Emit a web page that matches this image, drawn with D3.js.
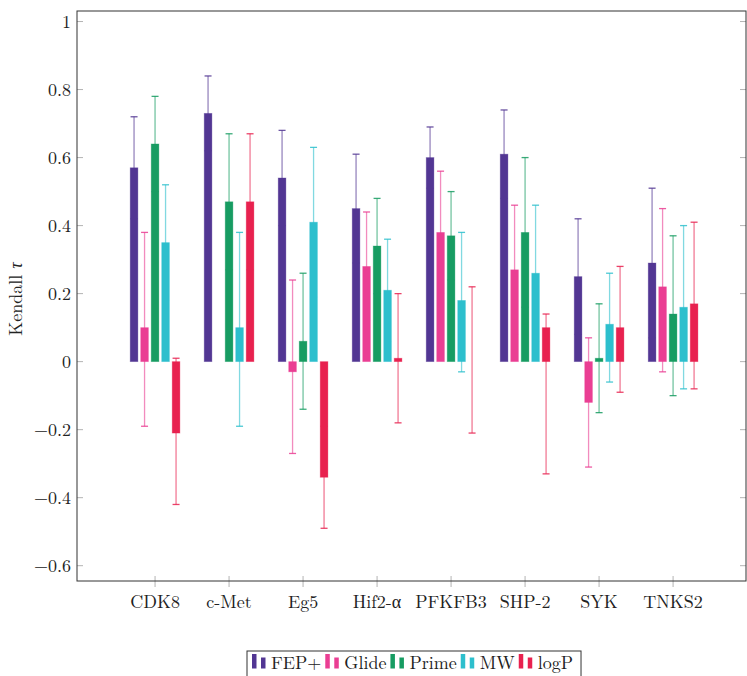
<!DOCTYPE html>
<html>
<head>
<meta charset="utf-8">
<script src="https://cdn.jsdelivr.net/npm/d3@7/dist/d3.min.js"></script>
<style>
  html, body { margin: 0; padding: 0; background: #fff; }
</style>
</head>
<body>
<svg id="chart"></svg>
<script>
// categories and series
const categories = ['CDK8', 'c-Met', 'Eg5', 'Hif2-α', 'PFKFB3', 'SHP-2', 'SYK', 'TNKS2'];
const seriesNames = ['FEP+', 'Glide', 'Prime', 'MW', 'logP'];
const seriesColors = ['#523693', '#ea3e93', '#179c62', '#2dbfcd', '#e8214f'];

// Kendall tau with lower / upper confidence bounds (Glide has no c-Met value)
const fep     = [0.57, 0.73, 0.54, 0.45, 0.60, 0.61, 0.25, 0.29];
const fepLo   = [0.42, 0.62, 0.40, 0.29, 0.51, 0.48, 0.08, 0.07];
const fepHi   = [0.72, 0.84, 0.68, 0.61, 0.69, 0.74, 0.42, 0.51];

const glide   = [0.10, null, -0.03, 0.28, 0.38, 0.27, -0.12, 0.22];
const glideLo = [-0.19, null, -0.27, 0.12, 0.20, 0.08, -0.31, -0.03];
const glideHi = [0.38, null, 0.24, 0.44, 0.56, 0.46, 0.07, 0.45];

const prime   = [0.64, 0.47, 0.06, 0.34, 0.37, 0.38, 0.01, 0.14];
const primeLo = [0.50, 0.27, -0.14, 0.20, 0.24, 0.16, -0.15, -0.10];
const primeHi = [0.78, 0.67, 0.26, 0.48, 0.50, 0.60, 0.17, 0.37];

const mw      = [0.35, 0.10, 0.41, 0.21, 0.18, 0.26, 0.11, 0.16];
const mwLo    = [0.18, -0.19, 0.19, 0.06, -0.03, 0.06, -0.06, -0.08];
const mwHi    = [0.52, 0.38, 0.63, 0.36, 0.38, 0.46, 0.26, 0.40];

const logp    = [-0.21, 0.47, -0.34, 0.01, 0.00, 0.10, 0.10, 0.17];
const logpLo  = [-0.42, 0.27, -0.49, -0.18, -0.21, -0.33, -0.09, -0.08];
const logpHi  = [0.01, 0.67, -0.19, 0.20, 0.22, 0.14, 0.28, 0.41];

const yTicks = [-0.6, -0.4, -0.2, 0, 0.2, 0.4, 0.6, 0.8, 1];

const seriesData = [
  [fep, fepLo, fepHi],
  [glide, glideLo, glideHi],
  [prime, primeLo, primeHi],
  [mw, mwLo, mwHi],
  [logp, logpLo, logpHi]
];

const width = 747, height = 676;
const plot = { left: 77, right: 746, top: 11, bottom: 581 };
const serif = "'Latin Modern Roman', 'CMU Serif', 'Liberation Serif', 'DejaVu Serif', 'Noto Serif', Tinos, 'Nimbus Roman', 'FreeSerif', 'Times New Roman', Times, serif";

const svg = d3.select('#chart')
  .attr('width', width)
  .attr('height', height)
  .attr('viewBox', `0 0 ${width} ${height}`)
  .style('font-family', serif);

const x = d3.scalePoint()
  .domain(categories)
  .range([plot.left, plot.right])
  .padding(1.02)
  .align(0.517);

const xs = d3.scaleBand()
  .domain(seriesNames)
  .range([-24.85, 24.85])
  .paddingInner(0.267);

const y = d3.scaleLinear()
  .domain([-0.645, 1.031])
  .range([plot.bottom, plot.top]);

const fmt = d => d === 0 ? '0' : d === 1 ? '1' : d3.format('.1f')(d).replace('-', '−');

// y ticks, left and right, drawn inside the frame
const grey = '#b3b3b3';
svg.append('g').selectAll('line')
  .data(yTicks)
  .join('line')
    .attr('x1', plot.left).attr('x2', plot.left + 6)
    .attr('y1', d => y(d)).attr('y2', d => y(d))
    .attr('stroke', grey).attr('stroke-width', 1);
svg.append('g').selectAll('line')
  .data(yTicks)
  .join('line')
    .attr('x1', plot.right - 6).attr('x2', plot.right)
    .attr('y1', d => y(d)).attr('y2', d => y(d))
    .attr('stroke', grey).attr('stroke-width', 1);

svg.append('g').selectAll('text')
  .data(yTicks)
  .join('text')
    .attr('x', plot.left - 6)
    .attr('y', d => y(d))
    .attr('dy', '0.35em')
    .attr('text-anchor', 'end')
    .style('font-family', serif)
    .style('font-size', '18px')
    .attr('fill', '#222')
    .text(fmt);

// x ticks
svg.append('g').selectAll('line')
  .data(categories)
  .join('line')
    .attr('x1', d => x(d)).attr('x2', d => x(d))
    .attr('y1', plot.bottom - 5).attr('y2', plot.bottom + 6)
    .attr('stroke', grey).attr('stroke-width', 1);

svg.append('g').selectAll('text')
  .data(categories)
  .join('text')
    .attr('x', d => x(d))
    .attr('y', 608)
    .attr('text-anchor', 'middle')
    .style('font-family', serif)
    .style('font-size', '18px')
    .attr('fill', '#222')
    .text(d => d);

// error bars, then bars on top
seriesData.forEach(([vals, lo, hi], si) => {
  const name = seriesNames[si];
  const color = seriesColors[si];
  const rows = categories.map((c, i) => ({ c, v: vals[i], lo: lo[i], hi: hi[i] }))
    .filter(d => d.v !== null);
  const cx = d => x(d.c) + xs(name) + xs.bandwidth() / 2;

  const eg = svg.append('g');
  eg.selectAll('line.stem')
    .data(rows)
    .join('line')
      .attr('class', 'stem')
      .attr('x1', cx).attr('x2', cx)
      .attr('y1', d => y(d.lo)).attr('y2', d => y(d.hi))
      .attr('stroke', color).attr('stroke-opacity', 0.6).attr('stroke-width', 1.3);
  eg.selectAll('line.caplo')
    .data(rows)
    .join('line')
      .attr('class', 'caplo')
      .attr('x1', d => cx(d) - 3.5).attr('x2', d => cx(d) + 3.5)
      .attr('y1', d => y(d.lo)).attr('y2', d => y(d.lo))
      .attr('stroke', color).attr('stroke-opacity', 0.85).attr('stroke-width', 1.3);
  eg.selectAll('line.caphi')
    .data(rows)
    .join('line')
      .attr('class', 'caphi')
      .attr('x1', d => cx(d) - 3.5).attr('x2', d => cx(d) + 3.5)
      .attr('y1', d => y(d.hi)).attr('y2', d => y(d.hi))
      .attr('stroke', color).attr('stroke-opacity', 0.85).attr('stroke-width', 1.3);

  svg.append('g').selectAll('rect')
    .data(rows)
    .join('rect')
      .attr('x', d => x(d.c) + xs(name))
      .attr('width', xs.bandwidth())
      .attr('y', d => y(Math.max(0, d.v)))
      .attr('height', d => Math.abs(y(d.v) - y(0)))
      .attr('fill', color)
      .attr('stroke', color)
      .attr('stroke-opacity', 0.4)
      .attr('stroke-width', 0.8);
});

// frame
svg.append('rect')
  .attr('x', plot.left).attr('y', plot.top)
  .attr('width', plot.right - plot.left)
  .attr('height', plot.bottom - plot.top)
  .attr('fill', 'none')
  .attr('stroke', '#333')
  .attr('stroke-width', 1);

// y axis title
svg.append('text')
  .attr('transform', `translate(22,${(plot.top + plot.bottom) / 2 + 3}) rotate(-90)`)
  .attr('text-anchor', 'middle')
  .style('font-family', serif)
  .style('font-size', '18px')
  .attr('fill', '#222')
  .text('Kendall ')
  .append('tspan')
    .style('font-style', 'italic')
    .text('τ');

// legend
const legend = svg.append('g');
const lx0 = 247, ly0 = 651;
let lx = lx0 + 5;
seriesNames.forEach((name, i) => {
  const color = seriesColors[i];
  legend.append('rect')
    .attr('x', lx).attr('y', 654)
    .attr('width', 4.5).attr('height', 14.5)
    .attr('fill', color);
  legend.append('rect')
    .attr('x', lx + 9).attr('y', 657.5)
    .attr('width', 4.5).attr('height', 11)
    .attr('fill', color);
  const t = legend.append('text')
    .attr('x', lx + 19)
    .attr('y', 668.5)
    .style('font-family', serif)
    .style('font-size', '18px')
    .attr('fill', '#222')
    .text(name);
  lx += 19 + t.node().getComputedTextLength() + 4;
});
legend.insert('rect', ':first-child')
  .attr('x', lx0).attr('y', ly0)
  .attr('width', lx - lx0 + 4)
  .attr('height', 30)
  .attr('fill', '#fff')
  .attr('stroke', '#333')
  .attr('stroke-width', 1);
</script>
</body>
</html>
